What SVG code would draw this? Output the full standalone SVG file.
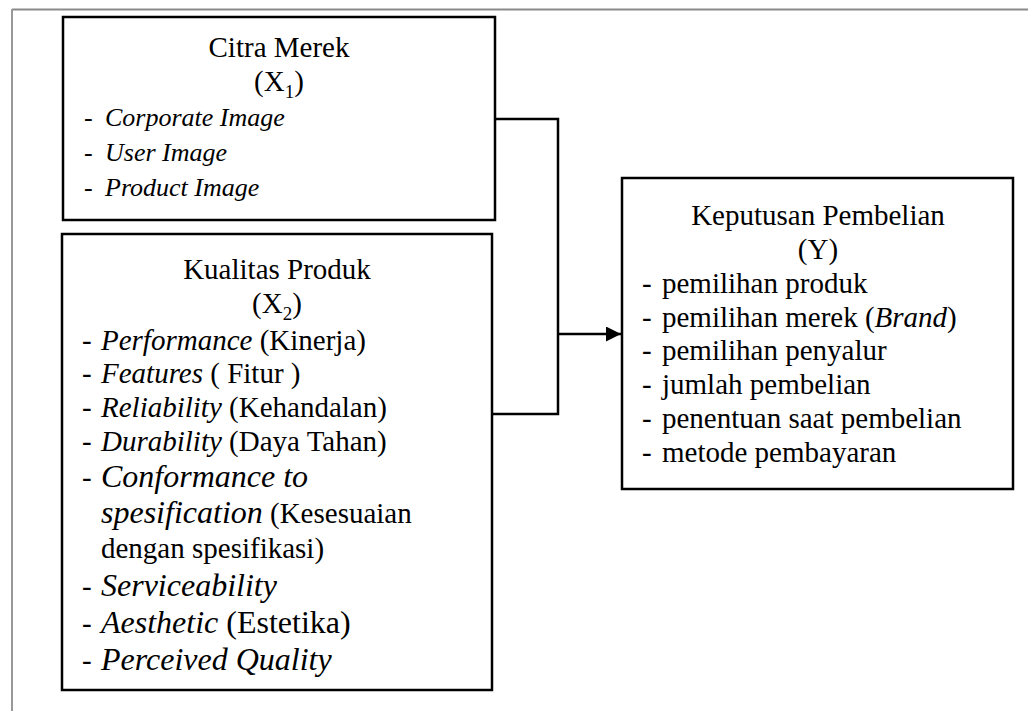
<svg xmlns="http://www.w3.org/2000/svg" width="1028" height="711" viewBox="0 0 1028 711">
<style>
text{font-family:"Liberation Serif","Times New Roman",serif;fill:#000;}
.t{font-size:29px;}
.s{font-size:26px;}
.l{font-size:32px;}
.i{font-style:italic;}
.c{text-anchor:middle;}
.box{fill:#fff;stroke:#000;stroke-width:2.5;}
.ln{fill:none;stroke:#000;stroke-width:2.5;}
</style>
<defs>
<marker id="arr" markerWidth="16" markerHeight="16" refX="15" refY="7.5" orient="auto" markerUnits="userSpaceOnUse">
<path d="M0,0 L15,7.5 L0,15 Z" fill="#000"/>
</marker>
</defs>
<rect width="1028" height="711" fill="#fff"/>
<g id="frame">
<line x1="12" y1="9.5" x2="1028" y2="9.5" stroke="#8a8a8a" stroke-width="2"/>
<line x1="12" y1="9" x2="12" y2="711" stroke="#999" stroke-width="2"/>
</g>
<g id="connectors">
<polyline class="ln" points="495,119 558,119 558,414 492,414"/>
<line class="ln" x1="558" y1="334" x2="621" y2="334" marker-end="url(#arr)"/>
</g>
<g id="citra-merek">
<rect class="box" x="63" y="17" width="432" height="203"/>
<text class="t c" x="279" y="57">Citra Merek</text>
<text class="t c" x="279" y="91">(X<tspan font-size="19" dy="7">1</tspan><tspan dy="-7">)</tspan></text>
<text class="s" x="84" y="126">-</text><text class="s i" x="105" y="126">Corporate Image</text>
<text class="s" x="84" y="161">-</text><text class="s i" x="105" y="161">User Image</text>
<text class="s" x="84" y="196">-</text><text class="s i" x="105" y="196">Product Image</text>
</g>
<g id="kualitas-produk">
<rect class="box" x="62" y="234" width="430" height="456"/>
<text class="t c" x="277" y="279">Kualitas Produk</text>
<text class="t c" x="277" y="313">(X<tspan font-size="19" dy="7">2</tspan><tspan dy="-7">)</tspan></text>
<text class="t" x="82" y="350">-</text><text class="t" x="101" y="350"><tspan class="i">Performance</tspan> (Kinerja)</text>
<text class="t" x="82" y="383">-</text><text class="t" x="101" y="383"><tspan class="i">Features</tspan> ( Fitur )</text>
<text class="t" x="82" y="417">-</text><text class="t" x="101" y="417"><tspan class="i">Reliability</tspan> (Kehandalan)</text>
<text class="t" x="82" y="451">-</text><text class="t" x="101" y="451"><tspan class="i">Durability</tspan> (Daya Tahan)</text>
<text class="t" x="82" y="487">-</text><text class="l i" x="101" y="487">Conformance to</text>
<text class="t" x="101" y="523"><tspan class="l i">spesification</tspan> (Kesesuaian</text>
<text class="t" x="101" y="558">dengan spesifikasi)</text>
<text class="t" x="82" y="596">-</text><text class="l i" x="101" y="596">Serviceability</text>
<text class="t" x="82" y="633">-</text><text class="l" x="101" y="633"><tspan class="i">Aesthetic</tspan> (Estetika)</text>
<text class="t" x="82" y="670">-</text><text class="l i" x="101" y="670">Perceived Quality</text>
</g>
<g id="keputusan-pembelian">
<rect class="box" x="622" y="178" width="391" height="311"/>
<text class="t c" x="818" y="225">Keputusan Pembelian</text>
<text class="t c" x="818" y="259">(Y)</text>
<text class="t" x="642" y="293">-</text><text class="t" x="662" y="293">pemilihan produk</text>
<text class="t" x="642" y="327">-</text><text class="t" x="662" y="327">pemilihan merek (<tspan class="i">Brand</tspan>)</text>
<text class="t" x="642" y="360">-</text><text class="t" x="662" y="360">pemilihan penyalur</text>
<text class="t" x="642" y="394">-</text><text class="t" x="662" y="394">jumlah pembelian</text>
<text class="t" x="642" y="428">-</text><text class="t" x="662" y="428">penentuan saat pembelian</text>
<text class="t" x="642" y="462">-</text><text class="t" x="662" y="462">metode pembayaran</text>
</g>
</svg>
